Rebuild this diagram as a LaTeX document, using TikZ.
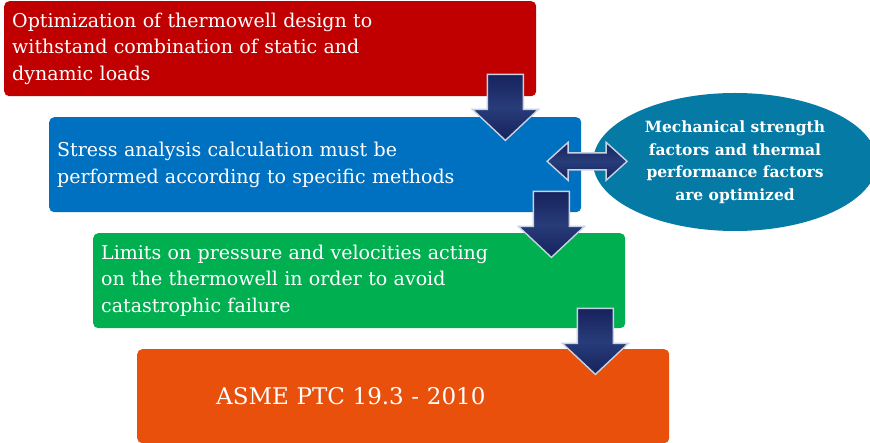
\documentclass[tikz,border=0pt]{standalone}
\usepackage{fontspec}
\setmainfont{DejaVu Serif}
\usepackage{tikz}
\usetikzlibrary{calc,shapes.geometric}

\definecolor{stepred}{RGB}{192,0,0}
\definecolor{stepblue}{RGB}{0,112,192}
\definecolor{stepgreen}{RGB}{0,176,80}
\definecolor{steporange}{RGB}{232,80,12}
\definecolor{ovalteal}{RGB}{4,122,164}
\definecolor{navy}{RGB}{22,34,92}
\definecolor{navylight}{RGB}{40,60,122}
\definecolor{arrowrim}{RGB}{200,210,226}

\tikzset{
	stepbox/.style={rounded corners=5pt, anchor=north west, minimum width=532pt, minimum height=95pt,
		inner xsep=8pt, text width=516pt, align=left, text=white, font=\fontsize{19}{26.5}\selectfont},
	blockarrow/.style={draw=arrowrim, line width=1.4pt, top color=navy, bottom color=navy, middle color=navylight},
	down arrow/.pic={
		\path[blockarrow] (-18,0) -- (18,0) -- (18,35) -- (33,35) -- (0,66) -- (-33,35) -- (-18,35) -- cycle;
	}
}

\begin{document}
\begin{tikzpicture}[x=1pt,y=-1pt]
	\useasboundingbox (0,0) rectangle (870,443);
	% the four stages
	\node[stepbox, fill=stepred] (design) at (4,1) {Optimization of thermowell design to\\withstand combination of static and\\dynamic loads};
	\node[stepbox, fill=stepblue] (stress) at (49,117) {Stress analysis calculation must be\\performed according to specific methods};
	\node[stepbox, fill=stepgreen] (limits) at (93,233) {Limits on pressure and velocities acting\\on the thermowell in order to avoid\\catastrophic failure};
	\node[stepbox, fill=steporange, minimum height=94pt, font=\fontsize{23}{28}\selectfont] (asme) at (137,349) {\hspace*{71pt}ASME PTC 19.3 - 2010};
	% side note
	\node[ellipse, fill=ovalteal, minimum width=284pt, minimum height=138pt, inner sep=0pt, align=center,
		text=white, font=\fontsize{15.5}{22.5}\selectfont\bfseries] (factors) at (735,162)
		{Mechanical strength\\factors and thermal\\performance factors\\are optimized};
	% arrows between the stages
	\pic at ($(design.south east)+(-31,-22)$) {down arrow};
	\pic at ($(stress.south east)+(-30,-21)$) {down arrow};
	\pic at ($(limits.south east)+(-30,-20)$) {down arrow};
	\coordinate (link) at ($(stress.east)!0.5!(factors.west)+(0,-2)$);
	\path[blockarrow]
		($(link)+(-40,0)$) -- ++(21,-19) -- ++(0,10.5) -- ++(38,0) -- ++(0,-10.5) -- ++(21,19)
		-- ++(-21,19) -- ++(0,-10.5) -- ++(-38,0) -- ++(0,10.5) -- cycle;
\end{tikzpicture}
\end{document}
